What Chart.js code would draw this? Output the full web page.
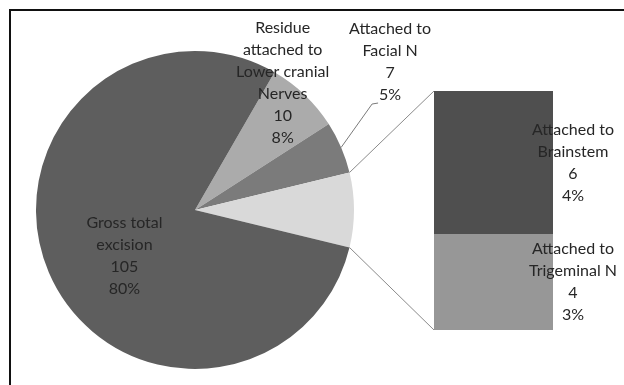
<!DOCTYPE html>
<html>
<head>
<meta charset="utf-8">
<script src="https://cdn.jsdelivr.net/npm/chart.js@4/dist/chart.umd.min.js"></script>
<style>
  html, body { margin: 0; padding: 0; background: #fff; }
  #wrap { position: relative; width: 624px; height: 385px; overflow: hidden; }
  #frame { position: absolute; left: 9px; top: 9px; width: 640px; height: 420px;
           border: 2.5px solid #111; box-sizing: border-box; }
  canvas { position: absolute; left: 0; top: 0; }
</style>
</head>
<body>
<div id="wrap">
  <div id="frame"></div>
  <canvas id="pie" width="624" height="385"></canvas>
  <canvas id="bar" width="624" height="385"></canvas>
</div>
<script>
// Main pie: categories and counts (the "other" slice is the sum of the bar breakdown)
const pieCategories = ['Residue attached to Lower cranial Nerves', 'Attached to Facial N', 'Other', 'Gross total excision'];
const pieNameLines = [['Residue', 'attached to', 'Lower cranial', 'Nerves'], ['Attached to', 'Facial N'], [], ['Gross total', 'excision']];
const pieCounts = [10, 7, null, 105];
const piePercents = ['8%', '5%', '', '80%'];

// Secondary stacked bar: breakdown of the "other" slice
const barCategories = ['Attached to Brainstem', 'Attached to Trigeminal N'];
const barNameLines = [['Attached to', 'Brainstem'], ['Attached to', 'Trigeminal N']];
const barCounts = [6, 4];
const barPercents = ['4%', '3%'];

const otherTotal = barCounts.reduce((a, b) => a + b, 0);
const pieValues = pieCounts.map(v => v === null ? otherTotal : v);
const grandTotal = pieValues.reduce((a, b) => a + b, 0);

const pieColors = ['#ababab', '#7b7b7b', '#d9d9d9', '#5e5e5e'];
const barColors = ['#4f4f4f', '#979797'];

// The "other" slice is centred on the 3 o'clock direction
const otherIdx = pieValues.length - 2;
const before = pieValues.slice(0, otherIdx).reduce((a, b) => a + b, 0);
const rotation = 90 - (before + pieValues[otherIdx] / 2) / grandTotal * 360;

const FONT = '16px Lato';
const TEXT = '#262626';
const LINE_H = 22;

function drawBlock(ctx, lines, cx, cy) {
  ctx.save();
  ctx.font = FONT;
  ctx.fillStyle = TEXT;
  ctx.textAlign = 'center';
  ctx.textBaseline = 'middle';
  const top = cy - (lines.length - 1) * LINE_H / 2;
  lines.forEach((t, i) => ctx.fillText(t, cx, top + i * LINE_H));
  ctx.restore();
}

// Label placement for pie slices: angle shift (deg) from slice middle and radius factor
const pieLabelPlace = [
  { shift: -9, rf: 0.97 },
  { shift: -14, rf: 1.54, leader: true },
  null,
  { shift: -10, rf: 0.53 }
];

const pieLabelPlugin = {
  id: 'pieLabels',
  afterDatasetsDraw(chart) {
    const ctx = chart.ctx;
    const meta = chart.getDatasetMeta(0);
    meta.data.forEach((arc, i) => {
      const place = pieLabelPlace[i];
      if (!place) return;
      const p = arc.getProps(['x', 'y', 'startAngle', 'endAngle', 'outerRadius'], true);
      const mid = (p.startAngle + p.endAngle) / 2;
      const a = mid + place.shift * Math.PI / 180;
      const cx = p.x + Math.cos(a) * p.outerRadius * place.rf;
      const cy = p.y + Math.sin(a) * p.outerRadius * place.rf;
      const lines = [...pieNameLines[i], String(pieValues[i]), piePercents[i]];
      drawBlock(ctx, lines, cx, cy);
      if (place.leader) {
        const sx = p.x + Math.cos(mid) * p.outerRadius;
        const sy = p.y + Math.sin(mid) * p.outerRadius;
        const lastY = cy + (lines.length - 1) * LINE_H / 2;
        const ex = cx - 12, ey = lastY + 8;
        ctx.save();
        ctx.strokeStyle = '#7a7a7a';
        ctx.lineWidth = 1;
        ctx.beginPath();
        ctx.moveTo(sx, sy);
        ctx.lineTo(ex - 6, ey + 1);
        ctx.lineTo(ex, ey);
        ctx.stroke();
        ctx.restore();
      }
    });
  }
};

const pieChart = new Chart(document.getElementById('pie'), {
  type: 'pie',
  data: {
    labels: pieCategories,
    datasets: [{ data: pieValues, backgroundColor: pieColors, borderWidth: 0 }]
  },
  options: {
    responsive: false,
    animation: false,
    rotation: rotation,
    layout: { padding: { left: 36, right: 270, top: 51, bottom: 16 } },
    plugins: { legend: { display: false }, tooltip: { enabled: false } }
  },
  plugins: [pieLabelPlugin]
});

// Connectors from the "other" slice to the bar, plus bar segment labels
const barLabelPlugin = {
  id: 'barLabels',
  afterDatasetsDraw(chart) {
    const ctx = chart.ctx;
    const arc = pieChart.getDatasetMeta(0).data[otherIdx];
    const p = arc.getProps(['x', 'y', 'startAngle', 'endAngle', 'outerRadius'], true);
    const topBar = chart.getDatasetMeta(0).data[0];   // Brainstem (stacked on top)
    const botBar = chart.getDatasetMeta(1).data[0];   // Trigeminal (bottom)
    const tb = topBar.getProps(['x', 'y', 'base', 'width'], true);
    const bb = botBar.getProps(['x', 'y', 'base', 'width'], true);
    const left = tb.x - tb.width / 2;
    ctx.save();
    ctx.strokeStyle = '#8a8a8a';
    ctx.lineWidth = 1;
    ctx.beginPath();
    ctx.moveTo(p.x + Math.cos(p.startAngle) * p.outerRadius, p.y + Math.sin(p.startAngle) * p.outerRadius);
    ctx.lineTo(left, Math.min(tb.y, tb.base));
    ctx.moveTo(p.x + Math.cos(p.endAngle) * p.outerRadius, p.y + Math.sin(p.endAngle) * p.outerRadius);
    ctx.lineTo(left, Math.max(bb.y, bb.base));
    ctx.stroke();
    ctx.restore();

    [tb, bb].forEach((b, k) => {
      const right = b.x + b.width / 2;
      const cy = (b.y + b.base) / 2;
      const lines = [...barNameLines[k], String(barCounts[k]), barPercents[k]];
      drawBlock(ctx, lines, right + 20, cy);
    });
  }
};

new Chart(document.getElementById('bar'), {
  type: 'bar',
  data: {
    labels: [''],
    datasets: [
      { label: barCategories[0], data: [barCounts[0]], backgroundColor: barColors[0], borderWidth: 0,
        categoryPercentage: 1, barPercentage: 1, order: 1 },
      { label: barCategories[1], data: [barCounts[1]], backgroundColor: barColors[1], borderWidth: 0,
        categoryPercentage: 1, barPercentage: 1, order: 0 }
    ]
  },
  options: {
    responsive: false,
    animation: false,
    layout: { padding: { left: 434, right: 71, top: 91, bottom: 55 } },
    scales: {
      x: { display: false, stacked: true },
      y: { display: false, stacked: true, min: 0, max: otherTotal, reverse: false }
    },
    plugins: { legend: { display: false }, tooltip: { enabled: false } }
  },
  plugins: [barLabelPlugin]
});
</script>
</body>
</html>
